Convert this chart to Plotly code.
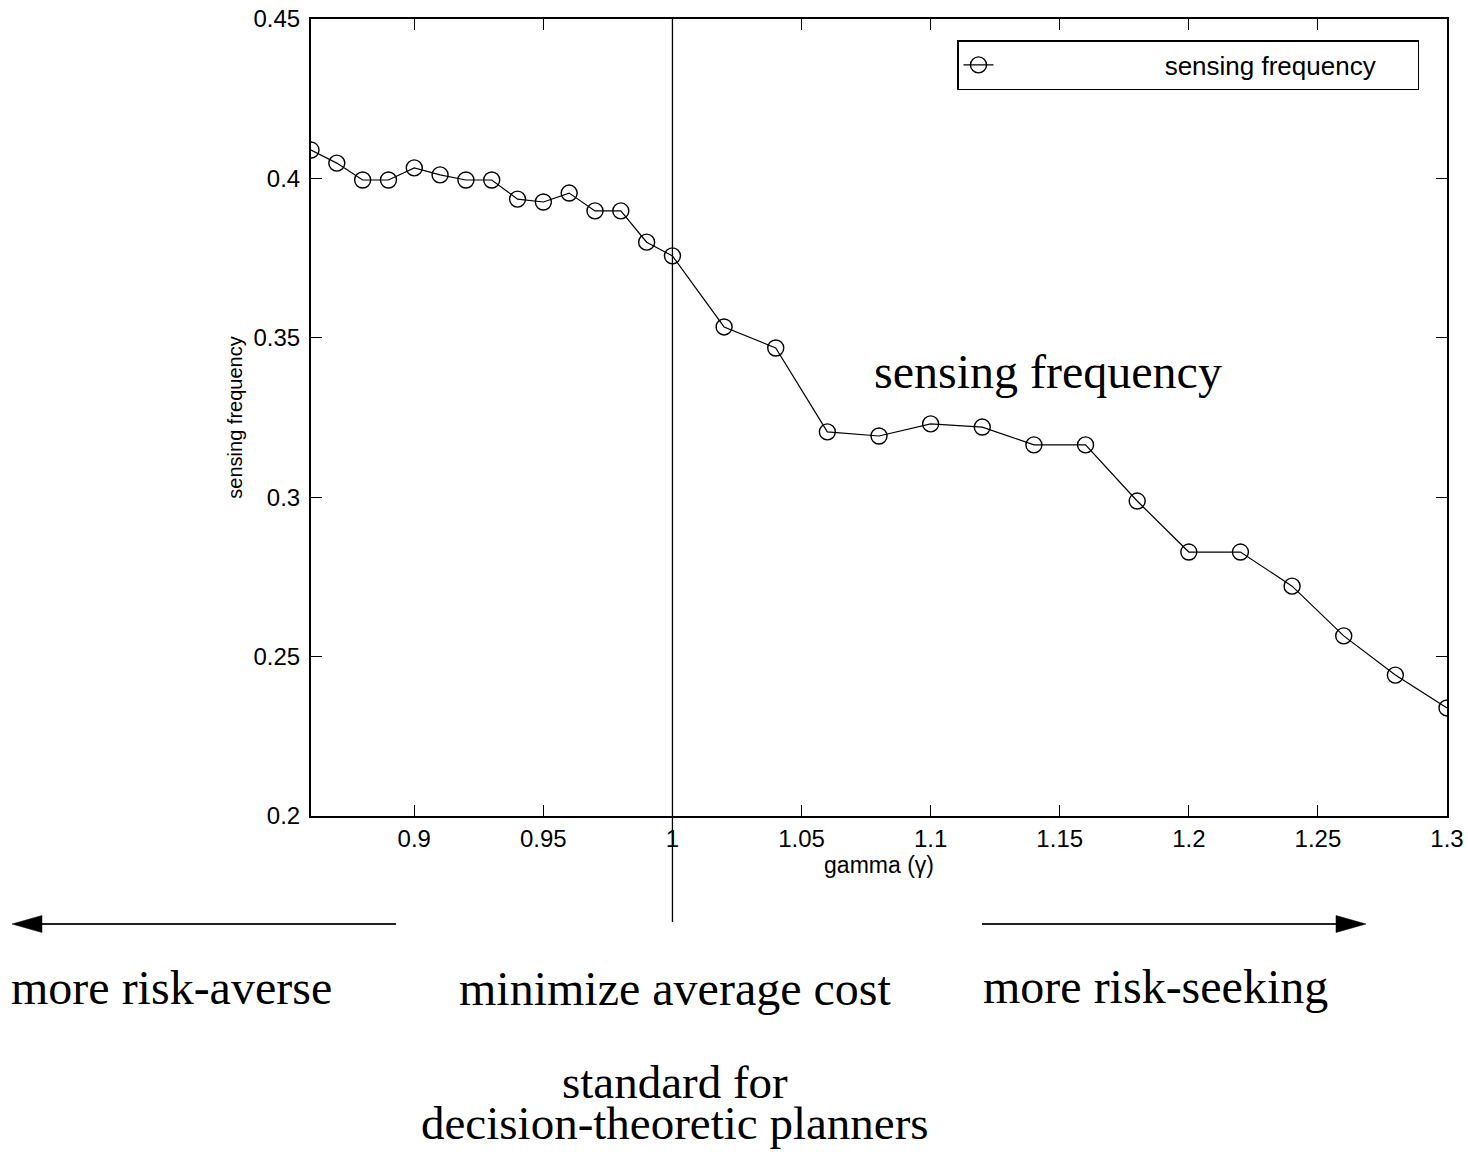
import plotly.graph_objects as go

gamma = [0.86, 0.87, 0.88, 0.89, 0.90, 0.91, 0.92, 0.93, 0.94, 0.95, 0.96, 0.97, 0.98, 0.99, 1.00,
         1.02, 1.04, 1.06, 1.08, 1.10, 1.12, 1.14, 1.16, 1.18, 1.20, 1.22, 1.24, 1.26, 1.28, 1.30]
sensing_freq = [0.4089, 0.4048, 0.3995, 0.3995, 0.4033, 0.4011, 0.3995, 0.3995, 0.3935, 0.3926,
                0.3954, 0.3898, 0.3898, 0.3800, 0.3757, 0.3534, 0.3468, 0.3205, 0.3192, 0.3230,
                0.3220, 0.3164, 0.3164, 0.2988, 0.2828, 0.2828, 0.2721, 0.2565, 0.2442, 0.2339]

x_ticks = [0.9, 0.95, 1.0, 1.05, 1.1, 1.15, 1.2, 1.25, 1.3]
x_ticklabels = ["0.9", "0.95", "1", "1.05", "1.1", "1.15", "1.2", "1.25", "1.3"]
y_ticks = [0.2, 0.25, 0.3, 0.35, 0.4, 0.45]
y_ticklabels = ["0.2", "0.25", "0.3", "0.35", "0.4", "0.45"]

SANS = "Liberation Sans, Arial, sans-serif"
SERIF = "Liberation Serif, Times New Roman, serif"

W, H = 1468, 1152
ML, MR, MT, MB = 311, 21, 19, 336
PW, PH = W - ML - MR, H - MT - MB


def px(xp):
    return (xp - ML) / PW


def py(yp):
    return (H - MB - yp) / PH


fig = go.Figure()
fig.add_trace(go.Scatter(
    x=gamma, y=sensing_freq, mode="lines+markers",
    name="\u00a0" * 23 + "sensing frequency" + "\u00a0" * 5,
    line=dict(color="black", width=1.2),
    marker=dict(symbol="circle-open", size=16, color="black", line=dict(width=1.4)),
))

shapes = [
    # vertical line at gamma = 1 extending below axis
    dict(type="line", xref="x", yref="paper", x0=1.0, x1=1.0, y0=py(922), y1=1.0,
         line=dict(color="black", width=1.3)),
    # left arrow
    dict(type="line", xref="paper", yref="paper", x0=px(40), x1=px(396), y0=py(924), y1=py(924),
         line=dict(color="#222", width=2)),
    dict(type="path", xref="paper", yref="paper",
         path=f"M{px(12)},{py(924)} L{px(42)},{py(915.5)} L{px(42)},{py(932.5)} Z",
         fillcolor="black", line=dict(color="black", width=0.5)),
    # right arrow
    dict(type="line", xref="paper", yref="paper", x0=px(982), x1=px(1337), y0=py(924), y1=py(924),
         line=dict(color="#222", width=2)),
    dict(type="path", xref="paper", yref="paper",
         path=f"M{px(1366)},{py(924)} L{px(1336)},{py(915.5)} L{px(1336)},{py(932.5)} Z",
         fillcolor="black", line=dict(color="black", width=0.5)),
]

TF = dict(family=SERIF, size=48, color="black")
TF2 = dict(family=SERIF, size=47, color="black")
annotations = [
    dict(xref="paper", yref="paper", x=px(9), y=py(987), xanchor="left", yanchor="middle",
         text="more risk-averse", showarrow=False, font=TF),
    dict(xref="paper", yref="paper", x=px(675), y=py(989), xanchor="center", yanchor="middle",
         text="minimize average cost", showarrow=False, font=TF),
    dict(xref="paper", yref="paper", x=px(981), y=py(986), xanchor="left", yanchor="middle",
         text="more risk-seeking", showarrow=False, font=TF),
    dict(xref="paper", yref="paper", x=px(675), y=py(1082), xanchor="center", yanchor="middle",
         text="standard for", showarrow=False, font=TF2, borderpad=0),
    dict(xref="paper", yref="paper", x=px(675), y=py(1123), xanchor="center", yanchor="middle",
         text="decision-theoretic planners", showarrow=False, font=TF2, borderpad=0),
    dict(xref="paper", yref="paper", x=px(1048), y=py(372), xanchor="center", yanchor="middle",
         text="sensing frequency", showarrow=False, font=TF),
]

fig.update_layout(
    width=W, height=H,
    paper_bgcolor="white", plot_bgcolor="white",
    margin=dict(l=ML, r=MR, t=MT, b=MB, autoexpand=False),
    showlegend=True,
    legend=dict(x=px(1419), y=py(40), xanchor="right", yanchor="top",
                bordercolor="black", borderwidth=1.5, bgcolor="white",
                font=dict(family=SANS, size=26, color="black")),
    shapes=shapes,
    annotations=annotations,
    xaxis=dict(range=[0.86, 1.3], tickvals=x_ticks, ticktext=x_ticklabels, automargin=False,
               showgrid=False, zeroline=False, showline=True, linecolor="black", linewidth=2,
               mirror="ticks", ticks="inside", ticklen=11, tickcolor="black", tickwidth=1.2,
               ticklabelstandoff=0,
               tickfont=dict(family=SANS, size=24, color="black"),
               title=dict(text="gamma (γ)", font=dict(family=SANS, size=23, color="black"), standoff=0)),
    yaxis=dict(range=[0.2, 0.45], tickvals=y_ticks, ticktext=y_ticklabels, automargin=False,
               showgrid=False, zeroline=False, showline=True, linecolor="black", linewidth=2,
               mirror="ticks", ticks="inside", ticklen=11, tickcolor="black", tickwidth=1.2,
               ticklabelstandoff=4,
               tickfont=dict(family=SANS, size=24, color="black"),
               title=dict(text="sensing frequency", font=dict(family=SANS, size=20, color="black"), standoff=5)),
)

fig.write_html("out.html", config={"displayModeBar": False},
               post_script="document.body.style.margin='0';document.body.style.padding='0';")
